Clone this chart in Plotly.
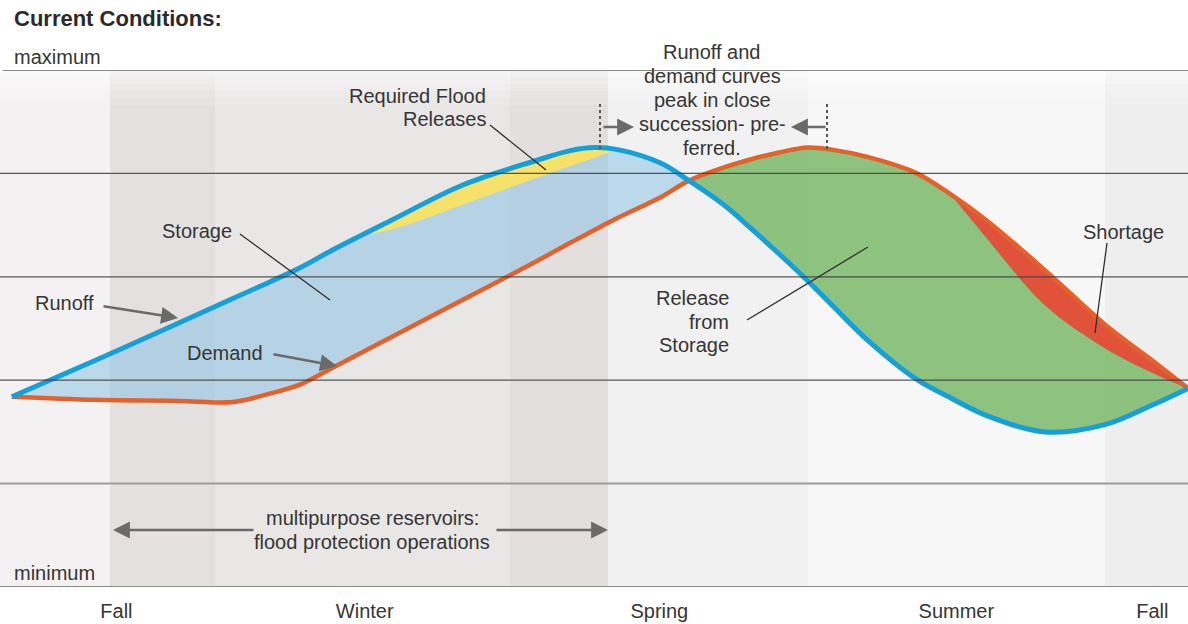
import plotly.graph_objects as go

# ---- data (x: percent of water year, y: relative level 0=minimum .. 5=maximum) ----
x = [1, 8, 15, 19.6, 22.7, 25.3, 28, 33, 39, 45, 48, 50, 52, 55.6, 58, 61, 63, 65.5, 68, 70, 73, 77,
     80, 83, 88, 93, 97, 100]
runoff = [1.84, 2.19, 2.55, 2.79, 2.95, 3.09, 3.26, 3.55, 3.89, 4.12, 4.22, 4.25, 4.23, 4.10, 3.93,
          3.69, 3.49, 3.23, 2.96, 2.73, 2.39, 2.02, 1.83, 1.66, 1.50, 1.57, 1.76, 1.92]
demand = [1.84, 1.81, 1.80, 1.79, 1.87, 1.96, 2.12, 2.42, 2.78, 3.14, 3.33, 3.45, 3.57, 3.77, 3.93,
          4.06, 4.13, 4.20, 4.25, 4.23, 4.16, 4.01, 3.80, 3.55, 3.06, 2.54, 2.19, 1.92]

flood_x = [29.5, 33, 39, 45, 50, 52]
flood_top = [3.38, 3.55, 3.89, 4.12, 4.25, 4.23]
flood_bottom = [3.38, 3.46, 3.70, 3.95, 4.15, 4.23]

short_x = [80, 83, 88, 93, 97, 100]
short_top = [3.80, 3.55, 3.06, 2.54, 2.19, 1.92]
short_bottom = [3.80, 3.38, 2.72, 2.31, 2.07, 1.92]

season_labels = ["Fall", "Winter", "Spring", "Summer", "Fall"]
season_pos = [9.8, 30.7, 55.5, 80.5, 97.0]

level_lines = [1, 2, 3, 4]

# ---- geometry helpers (pixel -> data / paper) ----
W, H = 1188, 624
T, B = 70, 37
PH = H - T - B
YPX = PH / 5.0
XPX = W / 100.0


def X(px):
    return px / XPX


def Y(py):
    return (H - B - py) / YPX


def PY(py):
    return (H - B - py) / PH


BLUE = "#16a0d8"
ORANGE = "#e3612b"
TXT = "#353535"
FONT = "Liberation Sans, Arial, sans-serif"

fig = go.Figure()

cross = x.index(58)
# storage fill (runoff above demand)
fig.add_trace(go.Scatter(x=x[:cross + 1], y=demand[:cross + 1], mode="lines",
                         line=dict(width=0, shape="spline"), hoverinfo="skip", showlegend=False))
fig.add_trace(go.Scatter(x=x[:cross + 1], y=runoff[:cross + 1], mode="lines", fill="tonexty",
                         fillcolor="rgba(120,188,228,0.45)",
                         line=dict(width=0, shape="spline"), hoverinfo="skip", showlegend=False))
# release from storage fill (demand above runoff)
fig.add_trace(go.Scatter(x=x[cross:], y=runoff[cross:], mode="lines",
                         line=dict(width=0, shape="spline"), hoverinfo="skip", showlegend=False))
fig.add_trace(go.Scatter(x=x[cross:], y=demand[cross:], mode="lines", fill="tonexty",
                         fillcolor="rgba(122,186,104,0.85)",
                         line=dict(width=0, shape="spline"), hoverinfo="skip", showlegend=False))
# required flood releases
fig.add_trace(go.Scatter(x=flood_x, y=flood_bottom, mode="lines",
                         line=dict(width=0, shape="spline"), hoverinfo="skip", showlegend=False))
fig.add_trace(go.Scatter(x=flood_x, y=flood_top, mode="lines", fill="tonexty",
                         fillcolor="#f6e26a",
                         line=dict(width=0, shape="spline"), hoverinfo="skip", showlegend=False))
# shortage
fig.add_trace(go.Scatter(x=short_x, y=short_bottom, mode="lines",
                         line=dict(width=0, shape="spline"), hoverinfo="skip", showlegend=False))
fig.add_trace(go.Scatter(x=short_x, y=short_top, mode="lines", fill="tonexty",
                         fillcolor="#e0533a",
                         line=dict(width=0, shape="spline"), hoverinfo="skip", showlegend=False))
# curves
fig.add_trace(go.Scatter(x=x, y=demand, mode="lines", name="Demand",
                         line=dict(color=ORANGE, width=4.5, shape="spline"), showlegend=False))
fig.add_trace(go.Scatter(x=x, y=runoff, mode="lines", name="Runoff",
                         line=dict(color=BLUE, width=5, shape="spline"), showlegend=False))

shapes = []
# background bands
bands = [(0, 110, "#f3f1f1"), (110, 215, "#e4e0e0"), (215, 510, "#e9e6e6"),
         (510, 608, "#e3dfdf"), (608, 808, "#f1f1f1"), (808, 1105, "#f7f7f7"),
         (1105, 1188, "#eeeeee")]
for a, b, c in bands:
    shapes.append(dict(type="rect", xref="paper", yref="paper", x0=a / W, x1=b / W, y0=0, y1=1,
                       fillcolor=c, line=dict(width=0), layer="below"))
# soft fade at the top
for i, op in enumerate([0.55, 0.4, 0.28, 0.18, 0.1]):
    shapes.append(dict(type="rect", xref="paper", yref="y", x0=0, x1=1,
                       y0=Y(70 + 7 * (i + 1)), y1=Y(70 + 7 * i),
                       fillcolor="rgba(255,255,255,%s)" % op, line=dict(width=0), layer="below"))
# horizontal level lines
shapes.append(dict(type="line", xref="paper", yref="y", x0=3 / W, x1=1, y0=5, y1=5,
                   line=dict(color="#8c8c8c", width=2), layer="above"))
for lv in level_lines[1:]:
    shapes.append(dict(type="line", xref="paper", yref="y", x0=0, x1=1, y0=lv, y1=lv,
                       line=dict(color="rgba(60,60,60,0.85)", width=1.2), layer="above"))
shapes.append(dict(type="line", xref="paper", yref="y", x0=0, x1=1, y0=1, y1=1,
                   line=dict(color="#9c9c9c", width=2), layer="above"))
shapes.append(dict(type="line", xref="paper", yref="y", x0=0, x1=1, y0=0, y1=0,
                   line=dict(color="#8c8c8c", width=2), layer="above"))
# pointer lines
for (x0, y0, x1, y1) in [(490, 125, 546, 170), (240, 234, 330, 300),
                         (747, 320, 868, 247), (1107, 243, 1095, 333)]:
    shapes.append(dict(type="line", xref="x", yref="y", x0=X(x0), y0=Y(y0), x1=X(x1), y1=Y(y1),
                       line=dict(color="#2e2e2e", width=1.3), layer="above"))
# dotted markers for peak window
for px in (600, 827):
    shapes.append(dict(type="line", xref="x", yref="y", x0=X(px), x1=X(px), y0=Y(104), y1=Y(150),
                       line=dict(color="#555555", width=2, dash="dot"), layer="above"))

ann = []


def label(lines, px, py, xanchor="center", size=20, bold=False, color=TXT, spacing=23.5):
    n = len(lines)
    for i, t in enumerate(lines):
        cy = py + (i - (n - 1) / 2.0) * spacing
        ann.append(dict(text=("<b>%s</b>" % t) if bold else t, x=px / W, y=PY(cy),
                        xref="paper", yref="paper", xanchor=xanchor, yanchor="middle",
                        showarrow=False, font=dict(family=FONT, size=size, color=color)))


def arrow(tx, ty, hx, hy):
    ann.append(dict(text="", x=X(hx), y=Y(hy), ax=X(tx), ay=Y(ty), xref="x", yref="y",
                    axref="x", ayref="y", showarrow=True, arrowhead=2, arrowsize=1.3,
                    arrowwidth=2.6, arrowcolor="#6a6a6a", standoff=0, startstandoff=0))


label(["Current Conditions:"], 12, 19, xanchor="left", size=22, bold=True, color="#2a2a2a")
label(["maximum"], 12, 57, xanchor="left")
label(["minimum"], 12, 573, xanchor="left")
label(["Required Flood", "Releases"], 488, 107.5, xanchor="right")
label(["Storage"], 197, 231)
label(["Runoff"], 64, 303)
label(["Demand"], 225, 353)
label(["Release", "from", "Storage"], 731, 321.5, xanchor="right")
label(["Shortage"], 1123, 232)
label(["Runoff and", "demand curves", "peak in close", "succession- pre-", "ferred."], 712, 100,
      spacing=24)
label(["multipurpose reservoirs:", "flood protection operations"], 372, 530)

arrow(102, 306, 178, 318)
arrow(272, 354, 337, 366)
arrow(255, 530, 113, 530)
arrow(495, 530, 608, 530)
arrow(602, 127, 634, 127)
arrow(827, 127, 791, 127)

fig.update_layout(
    width=W, height=H,
    margin=dict(l=0, r=0, t=T, b=B),
    paper_bgcolor="white", plot_bgcolor="white",
    shapes=shapes, annotations=ann,
    xaxis=dict(range=[0, 100], showgrid=False, zeroline=False, showline=False,
               tickvals=season_pos, ticktext=season_labels, ticks="outside", ticklen=6,
               tickcolor="rgba(0,0,0,0)", tickfont=dict(family=FONT, size=20, color=TXT),
               fixedrange=True),
    yaxis=dict(range=[0, 5], visible=False, fixedrange=True),
    showlegend=False,
)

fig.write_html("out.html", config={"displayModeBar": False},
               post_script="document.body.style.margin='0';document.body.style.overflow='hidden';")
